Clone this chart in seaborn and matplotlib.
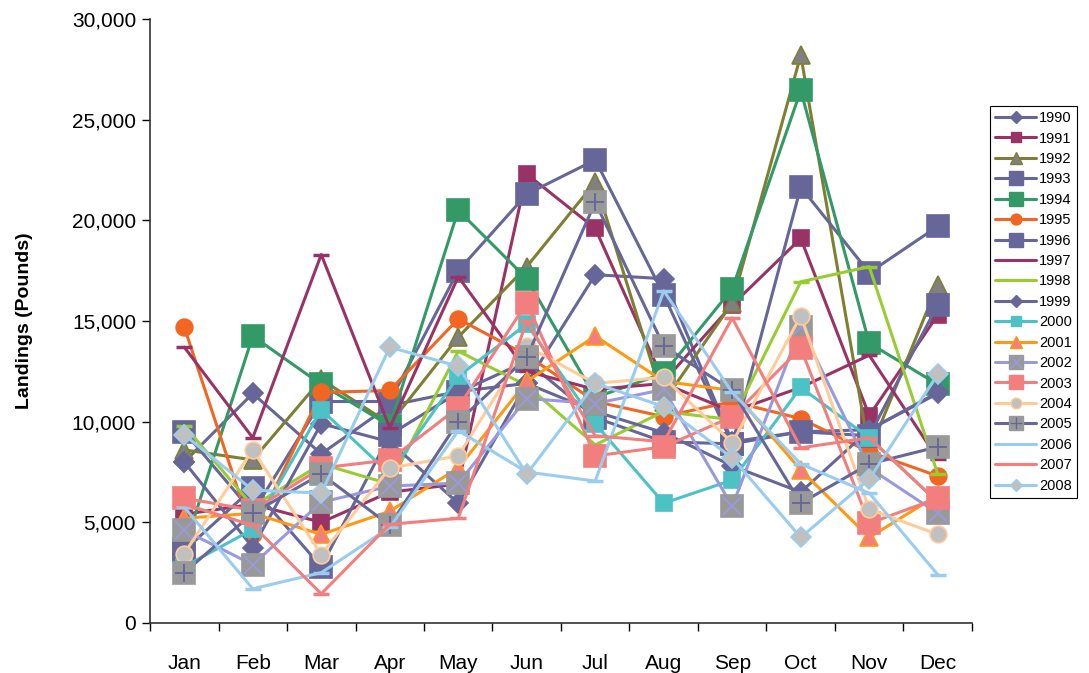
import numpy as np
import matplotlib
matplotlib.use("Agg")
import matplotlib.pyplot as plt
import seaborn as sns
from matplotlib.lines import Line2D
from matplotlib.ticker import FuncFormatter, MultipleLocator

months = ["Jan", "Feb", "Mar", "Apr", "May", "Jun", "Jul", "Aug", "Sep", "Oct", "Nov", "Dec"]

# landings in pounds
y1990 = [8000, 11400, 8400, 10800, 11500, 11900, 17300, 17100, 9000, 9500, 9600, 11400]
y1991 = [5400, 5900, 5000, 6500, 6900, 22300, 19600, 12000, 15800, 19100, 10300, 15300]
y1992 = [8600, 8100, 12100, 9900, 14200, 17700, 21900, 11000, 15900, 28200, 8500, 16800]
y1993 = [9500, 5500, 11000, 11000, 17500, 21300, 23000, 16300, 8900, 21650, 17400, 19700]
y1994 = [3700, 14250, 11850, 9800, 20500, 17100, 11200, 12400, 16600, 26450, 13900, 11850]
y1995 = [14700, 4400, 11450, 11550, 15100, 13300, 11000, 10250, 11000, 10150, 8500, 7300]
y1996 = [3600, 6700, 2800, 9350, 11450, 13000, 10200, 9000, 8900, 9500, 9300, 15800]
y1997 = [13700, 9200, 18300, 9700, 17200, 12500, 11600, 11900, 10500, 11700, 13300, 8150]
y1998 = [9800, 5800, 7900, 6900, 13500, 11800, 8850, 10500, 10100, 16950, 17700, 7400]
y1999 = [8000, 3750, 9900, 9000, 5950, 11900, 10500, 9450, 7800, 6500, 9600, 11450]
y2000 = [2800, 4650, 10600, 7400, 12250, 14850, 9900, 5950, 7100, 11700, 9200, 6000]
y2001 = [5200, 5450, 4400, 5550, 7700, 12000, 14250, 12000, 11550, 7600, 4250, 6350]
y2002 = [4600, 2900, 6000, 6800, 6950, 11150, 10900, 11600, 5800, 14700, 7700, 5450]
y2003 = [6200, 5600, 7700, 8100, 10700, 15900, 8300, 8750, 10250, 13650, 4950, 6200]
y2004 = [3450, 8600, 3400, 7700, 8300, 13750, 11900, 12200, 8950, 15250, 5650, 4400]
y2005 = [2500, 5450, 7400, 4850, 10000, 13200, 20900, 13750, 11550, 5950, 7900, 8750]
y2006 = [5750, 1700, 2500, 4750, 9550, 7500, 7050, 16500, 11450, 7900, 6450, 2400]
y2007 = [5900, 4850, 1450, 4900, 5200, 15000, 9300, 9000, 15150, 8700, 9200, 6000]
y2008 = [9350, 6600, 6450, 13700, 12750, 7400, 11900, 10750, 8200, 4250, 7150, 12350]

series = {
    "1990": y1990, "1991": y1991, "1992": y1992, "1993": y1993, "1994": y1994,
    "1995": y1995, "1996": y1996, "1997": y1997, "1998": y1998, "1999": y1999,
    "2000": y2000, "2001": y2001, "2002": y2002, "2003": y2003, "2004": y2004,
    "2005": y2005, "2006": y2006, "2007": y2007, "2008": y2008,
}

PUR = "#666699"
MAG = "#993366"
OLV = "#7f7f33"
GRN = "#339966"
ORG = "#f26522"
LIM = "#99cc33"
TEA = "#4cc2c6"
AMB = "#ff9912"
LAV = "#9999dd"
SAL = "#f37e7e"
PCH = "#ffcc99"
LBL = "#99ccee"
GRY = "#999999"
LGR = "#c0c0c0"

# line colour, marker, size, face, edge, overlay marker
styles = {
    "1990": (PUR, "D", 10, PUR, PUR, None),
    "1991": (MAG, "s", 12, MAG, MAG, None),
    "1992": (OLV, "^", 13, "#808080", OLV, None),
    "1993": (PUR, "s", 16, PUR, PUR, None),
    "1994": (GRN, "s", 16, GRN, GRN, None),
    "1995": (ORG, "o", 12, ORG, ORG, None),
    "1996": (PUR, "s", 16, PUR, PUR, None),
    "1997": (MAG, "_", 12, MAG, MAG, None),
    "1998": (LIM, "_", 12, LIM, LIM, None),
    "1999": (PUR, "D", 10, PUR, PUR, None),
    "2000": (TEA, "s", 12, TEA, TEA, None),
    "2001": (AMB, "^", 13, SAL, AMB, None),
    "2002": (LAV, "s", 16, GRY, GRY, ("x", LAV)),
    "2003": (SAL, "s", 16, SAL, SAL, None),
    "2004": (PCH, "o", 12, LGR, PCH, None),
    "2005": (PUR, "s", 16, GRY, GRY, ("+", PUR)),
    "2006": (LBL, "_", 12, LBL, LBL, None),
    "2007": (SAL, "_", 12, SAL, SAL, None),
    "2008": (LBL, "D", 10, LGR, LBL, None),
}

sns.set_style("white")
plt.rcParams["font.family"] = ["Liberation Sans", "DejaVu Sans"]
plt.rcParams["text.color"] = "black"
plt.rcParams["xtick.color"] = "black"
plt.rcParams["ytick.color"] = "black"
plt.rcParams["axes.labelcolor"] = "black"

fig = plt.figure(figsize=(10.89, 6.73), dpi=100)
ax = fig.add_axes([150 / 1089, 50 / 673, 822 / 1089, 604 / 673])

x = np.arange(len(months))
handles = []
for name, vals in series.items():
    col, mk, ms, fc, ec, over = styles[name]
    sns.lineplot(x=x, y=vals, ax=ax, color=col, linewidth=2.2, marker=mk,
                 markersize=ms, markerfacecolor=fc, markeredgecolor=ec,
                 markeredgewidth=1.2 if mk not in ("_",) else 2.5)
    h = Line2D([], [], color=col, linewidth=2.2, marker=mk, markersize=ms * 0.65,
               markerfacecolor=fc, markeredgecolor=ec,
               markeredgewidth=1.0 if mk != "_" else 2.0)
    if over is not None:
        ax.plot(x, vals, linestyle="none", marker=over[0], markersize=ms * 0.8,
                markeredgecolor=over[1], markeredgewidth=1.3)
        h2 = Line2D([], [], linestyle="none", marker=over[0], markersize=ms * 0.5,
                    markeredgecolor=over[1], markeredgewidth=1.0)
        handles.append((h, h2))
    else:
        handles.append(h)

ax.set_xlim(-0.5, 11.5)
ax.set_ylim(0, 30000)
ax.yaxis.set_major_locator(MultipleLocator(5000))
ax.yaxis.set_major_formatter(FuncFormatter(lambda v, p: f"{int(v):,}"))
ax.set_xticks(x)
ax.set_xticklabels(months)
ax.set_xticks(np.arange(-0.5, 12, 1), minor=True)
ax.tick_params(axis="x", which="major", length=0, labelsize=15, pad=22)
ax.tick_params(axis="x", which="minor", length=6, width=1, direction="out", bottom=True)
ax.tick_params(axis="y", length=6, width=1, direction="out", left=True, labelsize=15, pad=4)
ax.set_ylabel("Landings (Pounds)", fontsize=14, fontweight="bold", labelpad=28)
ax.set_xlabel("")

sns.despine(ax=ax)
for s in ("left", "bottom"):
    ax.spines[s].set_color("#333333")
    ax.spines[s].set_linewidth(1.2)

leg = fig.legend(handles, list(series.keys()), loc="upper left",
                 bbox_to_anchor=(990 / 1089, 1 - 106 / 673), fontsize=10.5,
                 frameon=True, fancybox=False, framealpha=1, edgecolor="black",
                 handlelength=2.8, labelspacing=0.44, borderpad=0.35,
                 handletextpad=0.2, borderaxespad=0)
leg.get_frame().set_linewidth(0.8)

fig.savefig("out.png", dpi=100)
